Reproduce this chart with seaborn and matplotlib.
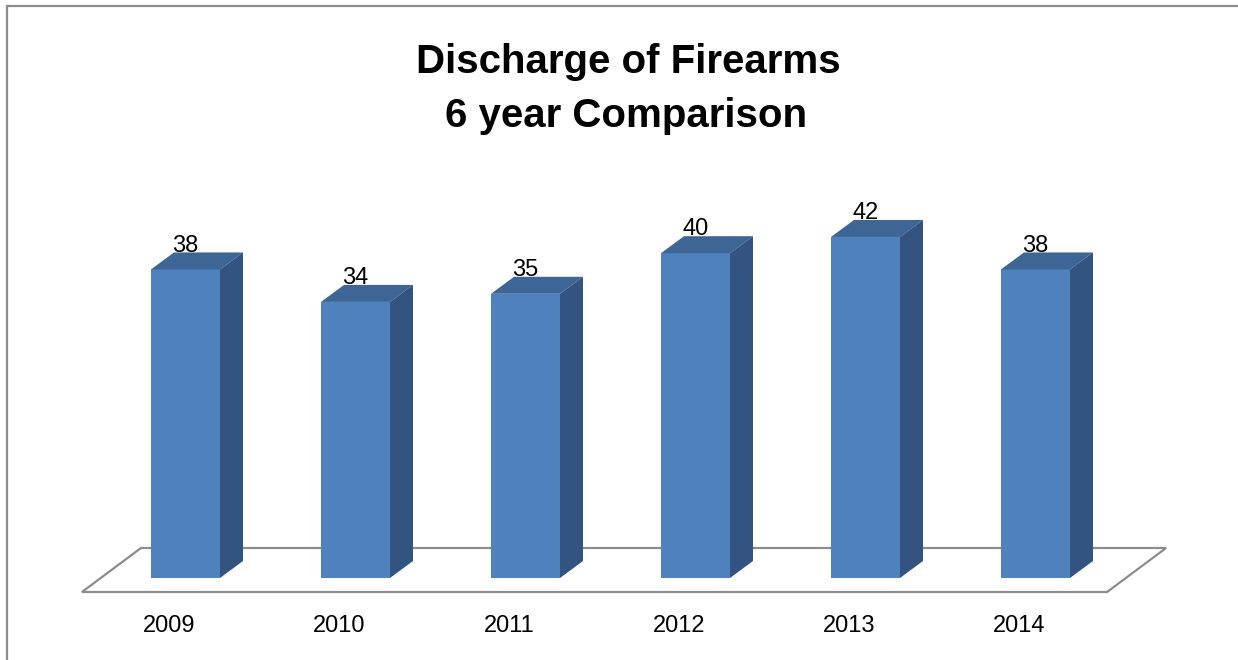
import matplotlib
matplotlib.use("Agg")
import matplotlib.pyplot as plt
import seaborn as sns
import pandas as pd
from matplotlib.patches import Polygon
from matplotlib.lines import Line2D
from matplotlib.transforms import ScaledTranslation

# ---- data ----
years = ["2009", "2010", "2011", "2012", "2013", "2014"]
counts = [38, 34, 35, 40, 42, 38]
title_lines = ["Discharge of Firearms", "6 year Comparison"]

# ---- style ----
sns.set_theme(style="white")
plt.rcParams["font.family"] = ["Liberation Sans", "DejaVu Sans"]

FRONT = "#4F81BD"
TOP = "#3D6596"
SIDE = "#335480"
GRID = "#8C8C8C"

W, H = 1238, 660
PX_CAT = 170.0     # pixels per category
PX_UNIT = 8.12     # pixels per value unit
BASE_PX = 82       # pixels from bottom of figure to y=0
X0_PX = 185.5      # pixel x of first category

fig = plt.figure(figsize=(W / 100, H / 100), dpi=100)
ax = fig.add_axes([0, BASE_PX / H, 1, 1 - BASE_PX / H])
ax.patch.set_visible(False)

df = pd.DataFrame({"year": years, "count": counts})
sns.barplot(data=df, x="year", y="count", color=FRONT, saturation=1,
            width=69 / PX_CAT, ax=ax, linewidth=0, zorder=3)

ax.set_xlim(-X0_PX / PX_CAT, (W - X0_PX) / PX_CAT)
ax.set_ylim(0, (H - BASE_PX) / PX_UNIT)

# depth of the 3D bars (in data units)
dx = 23 / PX_CAT
dy = 17 / PX_UNIT

for i, bar in enumerate(ax.patches[:len(counts)]):
    x0 = bar.get_x()
    x1 = x0 + bar.get_width()
    h = bar.get_height()
    top = Polygon([(x0, h), (x1, h), (x1 + dx, h + dy), (x0 + dx, h + dy)],
                  closed=True, facecolor=TOP, edgecolor="none", zorder=3)
    side = Polygon([(x1, 0), (x1 + dx, dy), (x1 + dx, h + dy), (x1, h)],
                   closed=True, facecolor=SIDE, edgecolor="none", zorder=3)
    ax.add_patch(top)
    ax.add_patch(side)
    ax.text(x0 + bar.get_width() / 2, h + dy + 0.1, f"{counts[i]}",
            ha="center", va="baseline", fontsize=17, color="black", zorder=5)

# floor (parallelogram)
n = len(counts)
f_front_y = -14 / PX_UNIT
f_back_y = 30 / PX_UNIT
f_left = -0.5 - 0.109
f_right = n - 0.5 - 0.079
f_shift = 59 / PX_CAT
floor = Polygon([(f_left, f_front_y), (f_right, f_front_y),
                 (f_right + f_shift, f_back_y), (f_left + f_shift, f_back_y)],
                closed=True, facecolor="white", edgecolor=GRID, linewidth=1.6,
                zorder=1, clip_on=False)
ax.add_patch(floor)

# axes cosmetics
ax.set_xlabel("")
ax.set_ylabel("")
ax.set_yticks([])
ax.set_xticks(range(n), years)
ax.tick_params(axis="x", length=0, pad=26.5, labelsize=17, colors="black")
shift = ScaledTranslation(-16 / 100, 0, fig.dpi_scale_trans)
for lab in ax.get_xticklabels():
    lab.set_transform(lab.get_transform() + shift)
for s in ax.spines.values():
    s.set_visible(False)

# title
fig.text(628 / W, 1 - 73 / H, title_lines[0], ha="center", va="baseline",
         fontsize=29, fontweight="bold", color="black")
fig.text(626 / W, 1 - 127 / H, title_lines[1], ha="center", va="baseline",
         fontsize=29, fontweight="bold", color="black")

# chart border (top and left visible)
fig.add_artist(Line2D([6.5 / W, 1.0], [1 - 5.5 / H, 1 - 5.5 / H],
                      transform=fig.transFigure, color=GRID, linewidth=1.6))
fig.add_artist(Line2D([6.5 / W, 6.5 / W], [0.0, 1 - 5.5 / H],
                      transform=fig.transFigure, color=GRID, linewidth=1.6))

fig.savefig("out.png", dpi=100)
